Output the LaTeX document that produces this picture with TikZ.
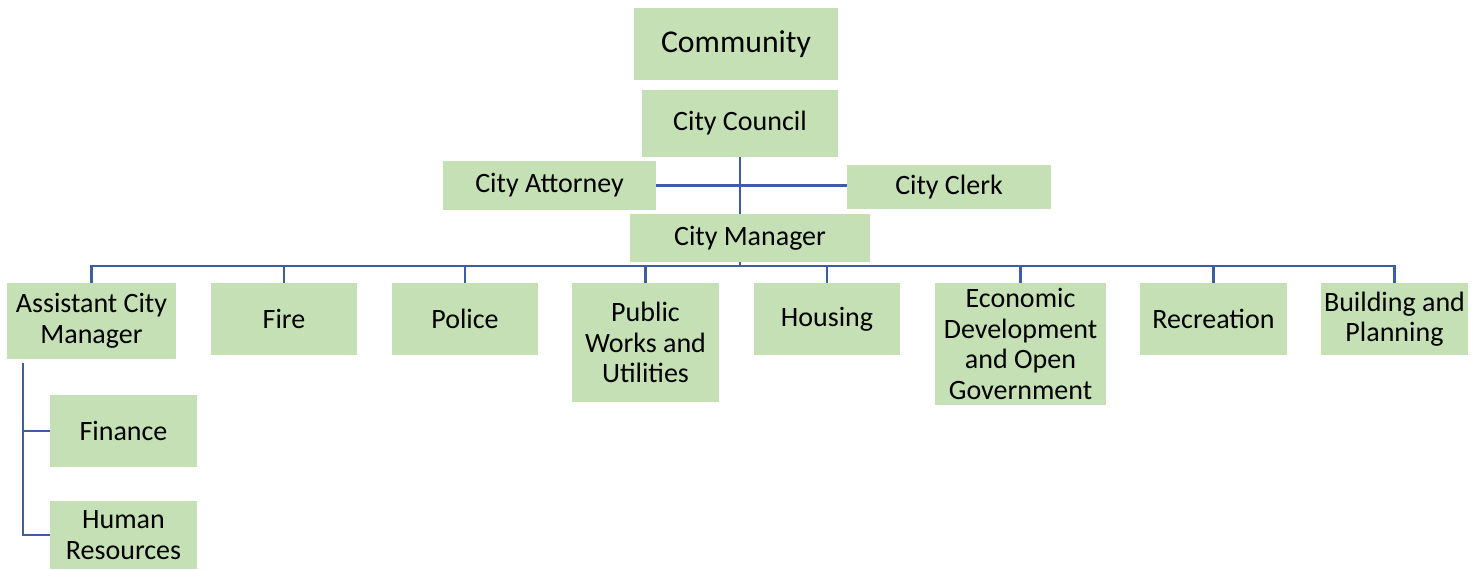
\documentclass[tikz,border=0pt]{standalone}
\usepackage{fontspec}
\setmainfont{Carlito}
\definecolor{boxgreen}{RGB}{197,224,180}
\definecolor{linkblue}{RGB}{62,94,164}
\begin{document}
\begin{tikzpicture}[x=0.75pt, y=-0.75pt,
		box/.style={fill=boxgreen, align=center, inner sep=0pt, font=\fontsize{21}{22.9}\selectfont},
		link/.style={draw=linkblue, line width=1.9pt}]
		\useasboundingbox (0,0) rectangle (1482,569);
		\node[box, minimum width=153pt, minimum height=54pt, font=\fontsize{23.8}{26}\selectfont] (community) at(736, 44){Community};
		\node[box, minimum width=147pt, minimum height=50.25pt] (council) at(740, 123.5){City Council};
		\node[box, minimum width=159.75pt, minimum height=36.75pt] (attorney) at(549.5, 185.5){City Attorney};
		\node[box, minimum width=153pt, minimum height=33pt] (clerk) at(949, 187){City Clerk};
		\node[box, minimum width=180pt, minimum height=36pt] (manager) at(750, 238){City Manager};
		\node[box, minimum width=126.75pt, minimum height=57pt] (acm) at(91.5, 321){Assistant City\\Manager};
		\node[box, minimum width=109.5pt, minimum height=54pt] (fire) at(284, 319){Fire};
		\node[box, minimum width=109.5pt, minimum height=54pt] (police) at(465, 319){Police};
		\node[box, minimum width=110.25pt, minimum height=89.25pt] (works) at(645.5, 342.5){Public\\Works and\\Utilities};
		\node[box, minimum width=109.5pt, minimum height=54pt] (housing) at(827, 319){Housing};
		\node[box, minimum width=128.25pt, minimum height=91.5pt] (econ) at(1020.5, 344){Economic\\Development\\and Open\\Government};
		\node[box, minimum width=110.25pt, minimum height=54pt] (recreation) at(1213.5, 319){Recreation};
		\node[box, minimum width=110.25pt, minimum height=54pt] (planning) at(1394.5, 319){Building and\\Planning};
		\node[box, minimum width=110.25pt, minimum height=54pt] (finance) at(123.5, 431){Finance};
		\node[box, minimum width=110.25pt, minimum height=51pt] (hr) at(123.5, 535){Human\\Resources};
		\coordinate (bus) at(740, 266);
		\coordinate (spine) at(23, 363);
		\draw[link](council.south)--(council.south |- manager.north);
		\draw[link](attorney.east)--(attorney.east -| clerk.west);
		\draw[link](manager.south -| bus)--(bus);
		\draw[link](acm.north)|-(bus -| planning.north)--(planning.north);
		\foreach \n in {fire, police, works, housing, econ, recreation}
			\draw[link](\n.north)--(\n.north |- bus);
		\draw[link](spine)|-(hr.west);
		\draw[link](spine |- finance.west)--(finance.west);
	\end{tikzpicture}
\end{document}
